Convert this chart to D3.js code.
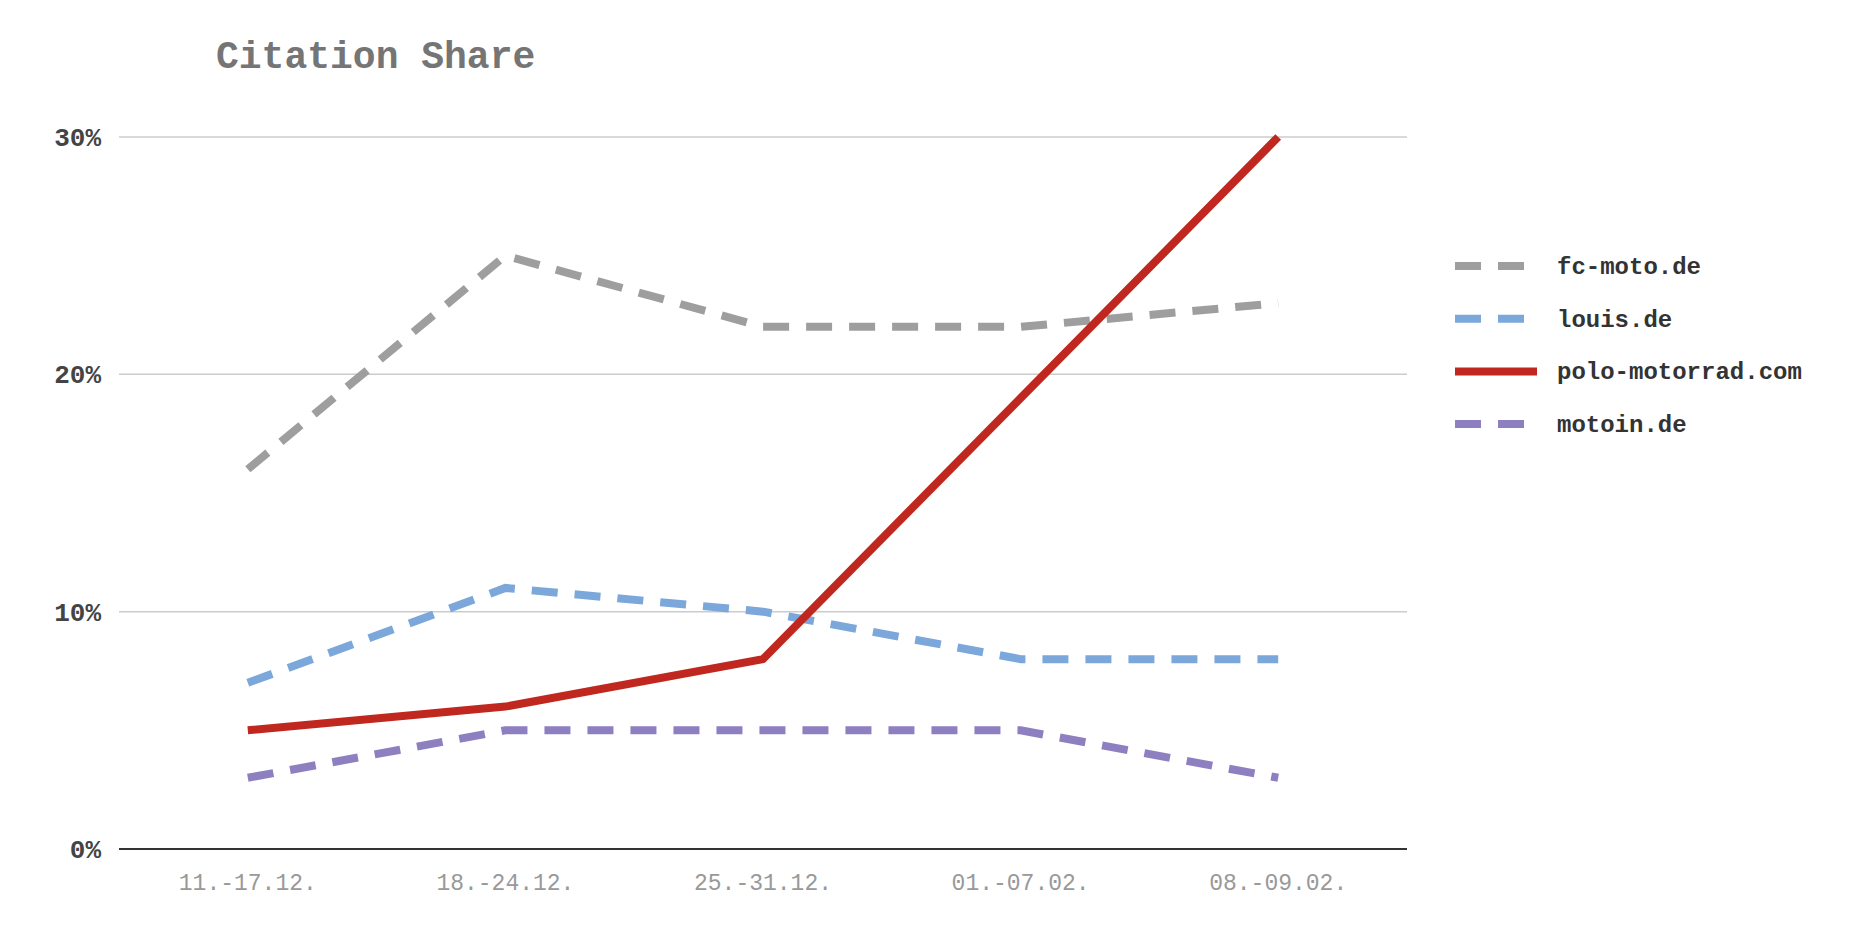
<!DOCTYPE html><html><head><meta charset="utf-8"><script src="https://cdn.jsdelivr.net/npm/d3@7"></script>
<style>body{margin:0;background:#fff}</style></head><body><svg id="c" width="1862" height="936"></svg>
<script>
const categories=["11.-17.12.","18.-24.12.","25.-31.12.","01.-07.02.","08.-09.02."];
const seriesNames=["fc-moto.de","louis.de","polo-motorrad.com","motoin.de"];
const fcMoto=[16,25,22,22,23];
const louis=[7,11,10,8,8];
const polo=[5,6,8,19,30];
const motoin=[3,5,5,5,3];
const yTicks=[0,10,20,30];
const colors=["#9e9e9e","#7ba7da","#c0281f","#8d7fc0"];
const dashed=[true,true,false,true];
const data=[fcMoto,louis,polo,motoin];
const font="'Liberation Mono','DejaVu Sans Mono',monospace";
const svg=d3.select("#c");
const L=119,R=1407,T=137,B=849;
const x=d3.scalePoint().domain(categories).range([L,R]).padding(0.5);
const y=d3.scaleLinear().domain([0,30]).range([B,T]);
svg.append("text").attr("x",216).attr("y",68).attr("font-family",font).attr("font-weight","bold").attr("font-size",38).attr("fill","#757575").text("Citation Share");
const ga=svg.append("g");
yTicks.forEach(t=>{
 ga.append("line").attr("x1",L).attr("x2",R).attr("y1",y(t)).attr("y2",y(t)).attr("stroke",t===0?"#333":"#ccc").attr("stroke-width",t===0?2:1.5);
 ga.append("text").attr("x",101).attr("y",y(t)+9).attr("text-anchor","end").attr("font-family",font).attr("font-weight","bold").attr("font-size",26).attr("fill","#444").text(t+"%");
});
categories.forEach(c=>ga.append("text").attr("x",x(c)).attr("y",890).attr("text-anchor","middle").attr("font-family",font).attr("font-size",23).attr("fill","#999").text(c));
const line=d3.line().x((d,i)=>x(categories[i])).y(d=>y(d));
data.forEach((s,k)=>{
 svg.append("path").attr("d",line(s)).attr("fill","none").attr("stroke",colors[k]).attr("stroke-width",8).attr("stroke-dasharray",dashed[k]?"26,17":null);
});
seriesNames.forEach((n,k)=>{
 const yy=266+k*52.7;
 svg.append("line").attr("x1",1455).attr("x2",1537).attr("y1",yy).attr("y2",yy).attr("stroke",colors[k]).attr("stroke-width",8).attr("stroke-dasharray",dashed[k]?"26,17":null);
 svg.append("text").attr("x",1557).attr("y",yy+8).attr("font-family",font).attr("font-weight","bold").attr("font-size",24).attr("fill","#333").text(n);
});
</script></body></html>
